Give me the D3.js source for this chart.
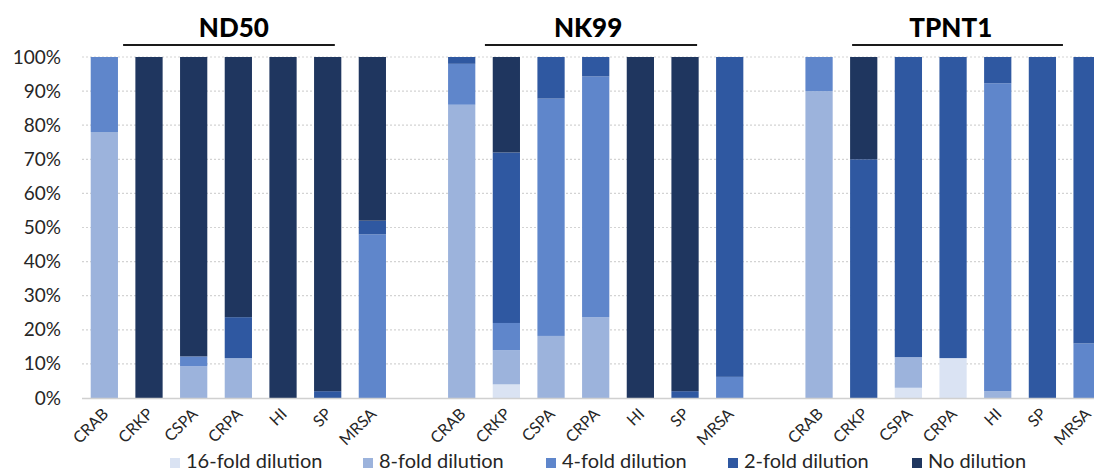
<!DOCTYPE html>
<html>
<head>
<meta charset="utf-8">
<script src="https://cdn.jsdelivr.net/npm/d3@7"></script>
<style>
  html, body { margin: 0; padding: 0; background: #fff; }
  svg { display: block; font-family: Lato, "Open Sans", sans-serif; }
</style>
</head>
<body>
<svg id="chart" width="1094" height="472"></svg>
<script>
// ---- data ----
const groups = ["ND50", "NK99", "TPNT1"];
const categories = ["CRAB", "CRKP", "CSPA", "CRPA", "HI", "SP", "MRSA"];
const series = ["16-fold dilution", "8-fold dilution", "4-fold dilution", "2-fold dilution", "No dilution"];
const yTicks = [0, 10, 20, 30, 40, 50, 60, 70, 80, 90, 100];
// rows per category: [16-fold, 8-fold, 4-fold, 2-fold, No dilution] (%)
const nd50 = [
  [0, 78, 22, 0, 0],
  [0, 0, 0, 0, 100],
  [0, 9.3, 2.9, 0, 87.8],
  [0, 11.7, 0, 12, 76.3],
  [0, 0, 0, 0, 100],
  [0, 0, 0, 2, 98],
  [0, 0, 48, 4, 48]
];
const nk99 = [
  [0, 86, 12, 2, 0],
  [4, 10, 8, 50, 28],
  [0, 18.2, 69.6, 12.2, 0],
  [0, 23.7, 70.6, 5.7, 0],
  [0, 0, 0, 0, 100],
  [0, 0, 0, 2, 98],
  [0, 0, 6.2, 93.8, 0]
];
const tpnt1 = [
  [0, 90, 10, 0, 0],
  [0, 0, 0, 70, 30],
  [3, 9, 0, 88, 0],
  [11.7, 0, 0, 88.3, 0],
  [0, 2, 90.3, 7.7, 0],
  [0, 0, 0, 100, 0],
  [0, 0, 16, 84, 0]
];
const groupValues = [nd50, nk99, tpnt1];
const colors = ["#dae3f3", "#9cb3dc", "#5f86cb", "#2f58a1", "#1f365f"];

// ---- build table ----
const rows = [];
const slots = [];
groups.forEach((g, gi) => {
  if (gi > 0) slots.push("gap" + gi);
  categories.forEach((c, ci) => {
    const id = g + "|" + c;
    slots.push(id);
    const r = { id, group: g, cat: c };
    series.forEach((s, si) => r[s] = groupValues[gi][ci][si]);
    rows.push(r);
  });
});

// ---- layout ----
const svg = d3.select("#chart");
const x0 = 82, x1 = 1109.4;
const x = d3.scaleBand().domain(slots).range([x0, x1]).paddingInner(0.39).paddingOuter(0.195);
const y = d3.scaleLinear().domain([0, 100]).range([398, 57]);

// gridlines
svg.append("g").selectAll("line").data(yTicks.filter(d => d > 0)).join("line")
  .attr("x1", x0).attr("x2", 1094)
  .attr("y1", d => y(d)).attr("y2", d => y(d))
  .attr("stroke", "#d3d3d3").attr("stroke-width", 1.2).attr("stroke-dasharray", "2,2");

// y axis labels
const yAxis = d3.axisLeft(y).tickValues(yTicks).tickFormat(d => d + "%").tickSize(0).tickPadding(0);
const yg = svg.append("g").attr("transform", "translate(61,0)").call(yAxis);
yg.select(".domain").remove();
yg.selectAll("text").attr("font-size", 19).attr("fill", "#262626").attr("font-family", "Lato, sans-serif");

// bars
const stack = d3.stack().keys(series);
const stacked = stack(rows);
svg.append("g").selectAll("g").data(stacked).join("g")
  .attr("fill", (d, i) => colors[i])
  .selectAll("rect").data(d => d).join("rect")
  .attr("x", d => x(d.data.id))
  .attr("width", x.bandwidth())
  .attr("y", d => y(d[1]))
  .attr("height", d => Math.max(0, y(d[0]) - y(d[1])));

// baseline
svg.append("line").attr("x1", x0).attr("x2", 1094).attr("y1", y(0) + 0.5).attr("y2", y(0) + 0.5)
  .attr("stroke", "#d0d0d0").attr("stroke-width", 1.5);

// x labels
const xAxis = d3.axisBottom(x).tickValues(rows.map(r => r.id)).tickFormat(id => id.split("|")[1]).tickSize(0);
const xg = svg.append("g").attr("transform", `translate(0,${y(0)})`).call(xAxis);
xg.select(".domain").remove();
xg.selectAll("text")
  .attr("font-size", 16).attr("fill", "#262626").attr("font-family", "Lato, sans-serif")
  .attr("text-anchor", "end")
  .attr("transform", "translate(1,13) rotate(-45)")
  .attr("dy", "0.35em").attr("y", 0).attr("x", 0);

// group titles + lines
const lineSpan = [[0.92, 5.66], [1.02, 5.77], [1.24, 5.96]];
const titleCenter = [3.4, 3.33, 3.45];
const step = x.step();
groups.forEach((g, gi) => {
  const base = x0 + gi * 8 * step;
  svg.append("line")
    .attr("x1", base + lineSpan[gi][0] * step).attr("x2", base + lineSpan[gi][1] * step)
    .attr("y1", 45).attr("y2", 45).attr("stroke", "#1a1a1a").attr("stroke-width", 2);
  svg.append("text").attr("x", base + titleCenter[gi] * step).attr("y", 37)
    .attr("text-anchor", "middle").attr("font-weight", 900).attr("font-size", 26)
    .attr("fill", "#000").text(g);
});

// legend
const legendX = [170, 363, 546, 728, 912];
const lg = svg.append("g").selectAll("g").data(series).join("g")
  .attr("transform", (d, i) => `translate(${legendX[i]},0)`);
lg.append("rect").attr("x", 0).attr("y", 458).attr("width", 10).attr("height", 10).attr("fill", (d, i) => colors[i]);
lg.append("text").attr("x", 16).attr("y", 468).attr("font-size", 20).attr("fill", "#262626").text(d => d);
</script>
</body>
</html>
